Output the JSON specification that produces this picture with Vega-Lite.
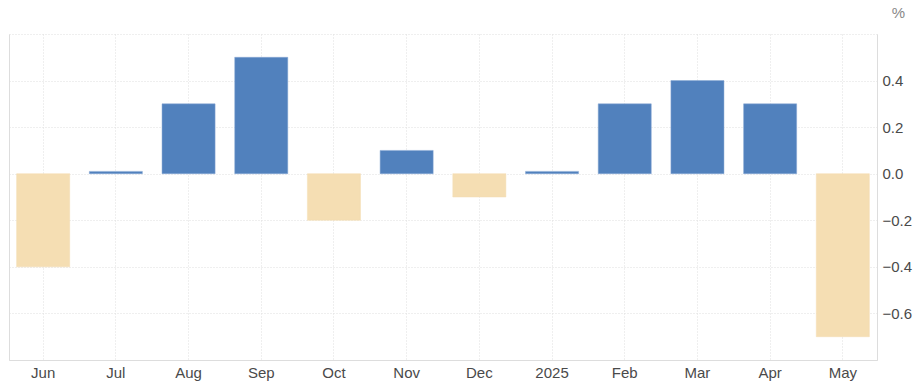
{
  "$schema": "https://vega.github.io/schema/vega-lite/v6.json",
  "width": 868,
  "height": 326,
  "autosize": {"type": "none"},
  "padding": {"left": 9, "top": 34, "right": 37, "bottom": 31},
  "background": "white",
  "config": {
    "view": {"stroke": null},
    "font": "Liberation Sans"
  },
  "data": {
    "values": [
      {"month": "Jun", "value": -0.4},
      {"month": "Jul", "value": 0.01},
      {"month": "Aug", "value": 0.3},
      {"month": "Sep", "value": 0.5},
      {"month": "Oct", "value": -0.2},
      {"month": "Nov", "value": 0.1},
      {"month": "Dec", "value": -0.1},
      {"month": "2025", "value": 0.01},
      {"month": "Feb", "value": 0.3},
      {"month": "Mar", "value": 0.4},
      {"month": "Apr", "value": 0.3},
      {"month": "May", "value": -0.7}
    ]
  },
  "layer": [
    {
      "mark": {"type": "bar", "strokeWidth": 1, "strokeOpacity": 0.5},
      "encoding": {
        "x": {
          "field": "month",
          "type": "nominal",
          "sort": null,
          "scale": {"paddingInner": 0.27, "paddingOuter": 0.105},
          "axis": {
            "title": null,
            "labelAngle": 0,
            "bandPosition": 0.5,
            "labelFontSize": 15,
            "labelColor": "#4a4a4a",
            "labelPadding": 5,
            "ticks": false,
            "domain": true,
            "domainColor": "#dddddd",
            "grid": true,
            "gridColor": "#dedede",
            "gridDash": [1, 2]
          }
        },
        "y": {
          "field": "value",
          "type": "quantitative",
          "scale": {"domain": [-0.8, 0.6], "nice": false, "zero": false},
          "axis": {
            "orient": "right",
            "values": [-0.8, -0.6, -0.4, -0.2, 0, 0.2, 0.4, 0.6],
            "format": ".1f",
            "labelExpr": "(datum.value > 0.5 || datum.value < -0.7) ? '' : datum.label",
            "labelFontSize": 15,
            "labelColor": "#4a4a4a",
            "labelPadding": 5,
            "ticks": false,
            "domain": true,
            "domainColor": "#dddddd",
            "grid": true,
            "gridColor": "#dedede",
            "gridDash": [1, 2],
            "title": "%",
            "titleAngle": 0,
            "titleX": 21,
            "titleY": -22,
            "titleAlign": "center",
            "titleBaseline": "middle",
            "titleFontSize": 15,
            "titleFontWeight": "normal",
            "titleColor": "#888"
          }
        },
        "color": {
          "condition": {"test": "datum.value < 0", "value": "#f5deb3"},
          "value": "#5181bd"
        },
        "stroke": {
          "condition": {"test": "datum.value < 0", "value": "#f5deb3"},
          "value": "#8aaad6"
        }
      }
    },
    {
      "mark": {"type": "bar", "opacity": 0},
      "encoding": {
        "x": {"field": "month", "type": "nominal", "sort": null},
        "y": {
          "field": "value",
          "type": "quantitative",
          "scale": {"domain": [-0.8, 0.6], "nice": false, "zero": false},
          "axis": {
            "orient": "left",
            "labels": false,
            "ticks": false,
            "grid": false,
            "title": null,
            "domain": true,
            "domainColor": "#dddddd"
          }
        }
      }
    }
  ],
  "resolve": {"axis": {"y": "independent"}}
}
